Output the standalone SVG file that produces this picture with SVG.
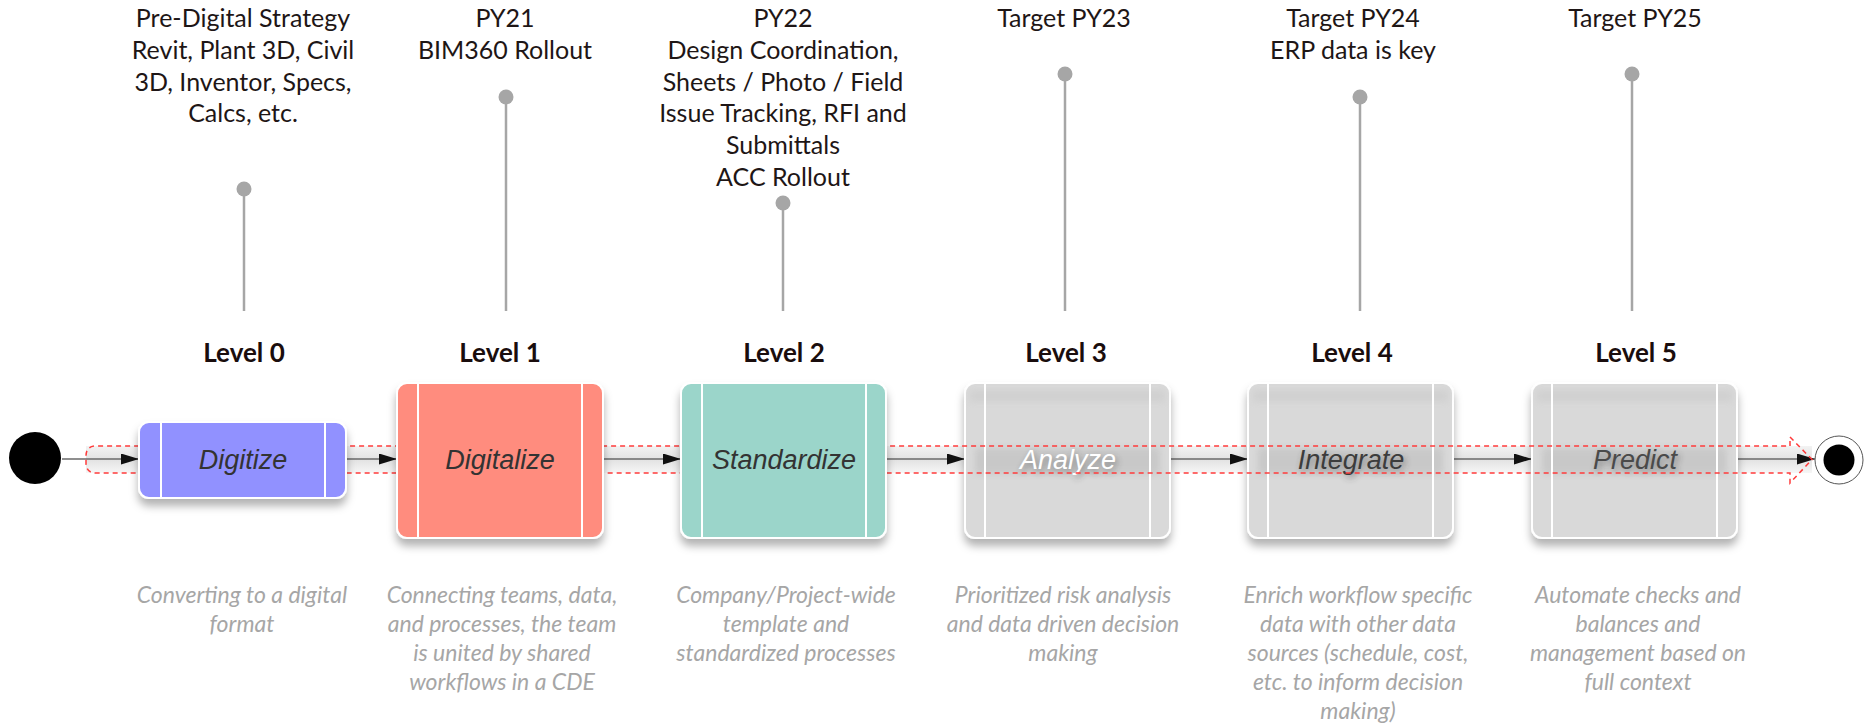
<svg xmlns="http://www.w3.org/2000/svg" width="1864" height="723" viewBox="0 0 1864 723">
<defs>
<style>
.top{font-family:Lato,"Open Sans","Liberation Sans",sans-serif;font-size:25px;fill:#1e1616;text-anchor:middle}
.lvl{font-family:Lato,"Open Sans","Liberation Sans",sans-serif;font-size:26px;font-weight:bold;fill:#1a0d0d;text-anchor:middle}
.desc{font-family:Lato,"Open Sans","Liberation Sans",sans-serif;font-size:23px;font-style:italic;fill:#a6a6a6;text-anchor:middle}
.bl{font-family:"Liberation Sans",Arial,sans-serif;font-size:27px;font-style:italic;text-anchor:middle}
.pin line{stroke:#a6a6a6;stroke-width:2.5}
.pin circle{fill:#a6a6a6}
.box{stroke:#fff;stroke-width:2}
.inner{stroke:#fff;stroke-width:2}
.conn{stroke:#6a6a6a;stroke-width:1.5;fill:none;marker-end:url(#ah)}
.gbox{fill:#d9d9d9;stroke:#fff;stroke-width:2}
</style>
<marker id="ah" viewBox="0 0 18 11" refX="18" refY="5.5" markerWidth="18" markerHeight="11" markerUnits="userSpaceOnUse" orient="auto">
<path d="M0,0 L18,5.5 L0,11 Z" fill="#111"/>
</marker>
<filter id="sh" x="-20%" y="-20%" width="140%" height="150%">
<feGaussianBlur in="SourceAlpha" stdDeviation="4"/>
<feOffset dy="7" result="b"/>
<feFlood flood-color="#000" flood-opacity="0.3"/>
<feComposite in2="b" operator="in" result="s"/>
<feMerge><feMergeNode in="s"/><feMergeNode in="SourceGraphic"/></feMerge>
</filter>
<filter id="soft" x="-20%" y="-50%" width="140%" height="200%">
<feGaussianBlur stdDeviation="3"/>
</filter>
<filter id="soft2" x="-20%" y="-50%" width="140%" height="200%">
<feGaussianBlur stdDeviation="3"/>
</filter>
<linearGradient id="glow" x1="0" y1="0" x2="0" y2="1">
<stop offset="0" stop-color="#f3f3f3"/>
<stop offset="0.5" stop-color="#e2e2e2"/>
<stop offset="1" stop-color="#f6f6f6"/>
</linearGradient>
</defs>
<rect width="1864" height="723" fill="#fff"/>

<g id="annotations">
<g id="pin0" class="pin"><line x1="244" y1="189" x2="244" y2="311"/><circle cx="244" cy="189" r="7.5"/>
<text class="top" x="243" y="27">Pre-Digital Strategy</text><text class="top" x="243" y="59">Revit, Plant 3D, Civil</text><text class="top" x="243" y="91">3D, Inventor, Specs,</text><text class="top" x="243" y="122">Calcs, etc.</text></g>
<g id="pin1" class="pin"><line x1="506" y1="97" x2="506" y2="311"/><circle cx="506" cy="97" r="7.5"/>
<text class="top" x="505" y="27">PY21</text><text class="top" x="505" y="59">BIM360 Rollout</text></g>
<g id="pin2" class="pin"><line x1="783" y1="203" x2="783" y2="311"/><circle cx="783" cy="203" r="7.5"/>
<text class="top" x="783" y="27">PY22</text><text class="top" x="783" y="59">Design Coordination,</text><text class="top" x="783" y="91">Sheets / Photo / Field</text><text class="top" x="783" y="122">Issue Tracking, RFI and</text><text class="top" x="783" y="154">Submittals</text><text class="top" x="783" y="186">ACC Rollout</text></g>
<g id="pin3" class="pin"><line x1="1065" y1="74" x2="1065" y2="311"/><circle cx="1065" cy="74" r="7.5"/>
<text class="top" x="1064" y="27">Target PY23</text></g>
<g id="pin4" class="pin"><line x1="1360" y1="97" x2="1360" y2="311"/><circle cx="1360" cy="97" r="7.5"/>
<text class="top" x="1353" y="27">Target PY24</text><text class="top" x="1353" y="59">ERP data is key</text></g>
<g id="pin5" class="pin"><line x1="1632" y1="74" x2="1632" y2="311"/><circle cx="1632" cy="74" r="7.5"/>
<text class="top" x="1635" y="27">Target PY25</text></g>
</g>

<g id="connectors">
<rect x="86" y="446" width="1726" height="27" fill="url(#glow)"/>
<line class="conn" x1="62" y1="459" x2="139" y2="459"/>
<line class="conn" x1="346" y1="459" x2="397" y2="459"/>
<line class="conn" x1="603" y1="459" x2="681" y2="459"/>
<line class="conn" x1="886" y1="459" x2="965" y2="459"/>
<line class="conn" x1="1170" y1="459" x2="1248" y2="459"/>
<line class="conn" x1="1453" y1="459" x2="1532" y2="459"/>
<line class="conn" x1="1737" y1="459" x2="1815" y2="459"/>
</g>

<g id="level3">
<rect class="gbox" x="965" y="383" width="205" height="155" rx="10" filter="url(#sh)"/>
<rect x="970" y="390" width="195" height="12" fill="#cdcdcd" opacity="0.7" filter="url(#soft2)"/>
<rect x="975" y="448" width="185" height="26" fill="#b5b5b5" opacity="0.45" filter="url(#soft)"/>
<line class="inner" x1="985" y1="384" x2="985" y2="537"/><line class="inner" x1="1150" y1="384" x2="1150" y2="537"/>
<text class="bl" x="1070" y="472" fill="#333" opacity="0.5" filter="url(#soft)">Analyze</text>
<text class="bl" x="1068" y="469" fill="#fff">Analyze</text>
<text class="lvl" x="1066" y="362">Level 3</text>
</g>
<g id="level4">
<rect class="gbox" x="1248" y="383" width="205" height="155" rx="10" filter="url(#sh)"/>
<rect x="1253" y="390" width="195" height="12" fill="#cdcdcd" opacity="0.7" filter="url(#soft2)"/>
<rect x="1258" y="448" width="185" height="26" fill="#b5b5b5" opacity="0.45" filter="url(#soft)"/>
<line class="inner" x1="1268" y1="384" x2="1268" y2="537"/><line class="inner" x1="1433" y1="384" x2="1433" y2="537"/>
<text class="bl" x="1353" y="472" fill="#333" opacity="0.5" filter="url(#soft)">Integrate</text>
<text class="bl" x="1351" y="469" fill="#3c3c3c">Integrate</text>
<text class="lvl" x="1352" y="362">Level 4</text>
</g>
<g id="level5">
<rect class="gbox" x="1532" y="383" width="205" height="155" rx="10" filter="url(#sh)"/>
<rect x="1537" y="390" width="195" height="12" fill="#cdcdcd" opacity="0.7" filter="url(#soft2)"/>
<rect x="1542" y="448" width="185" height="26" fill="#b5b5b5" opacity="0.45" filter="url(#soft)"/>
<line class="inner" x1="1552" y1="384" x2="1552" y2="537"/><line class="inner" x1="1717" y1="384" x2="1717" y2="537"/>
<text class="bl" x="1637" y="472" fill="#333" opacity="0.5" filter="url(#soft)">Predict</text>
<text class="bl" x="1635" y="469" fill="#4a4a4a">Predict</text>
<text class="lvl" x="1636" y="362">Level 5</text>
</g>

<g id="highlight">
<path d="M1790 446 V437 L1812 459.5 L1790 483 V473 H96 Q86 473 86 463 V456 Q86 446 96 446 Z" fill="none" stroke="#ff3b3b" stroke-width="1.5" stroke-dasharray="5 4"/>
</g>

<g id="start"><circle cx="35" cy="458" r="26" fill="#000"/></g>

<g id="level0">
<rect class="box" x="139" y="422" width="207" height="76" rx="10" fill="#9191ff" filter="url(#sh)"/>
<line class="inner" x1="161" y1="423" x2="161" y2="497"/><line class="inner" x1="325" y1="423" x2="325" y2="497"/>
<text class="bl" x="243" y="469" fill="#333">Digitize</text>
<text class="lvl" x="244" y="362">Level 0</text>
</g>
<g id="level1">
<rect class="box" x="397" y="383" width="206" height="155" rx="10" fill="#ff8c7e" filter="url(#sh)"/>
<line class="inner" x1="418" y1="384" x2="418" y2="537"/><line class="inner" x1="582" y1="384" x2="582" y2="537"/>
<text class="bl" x="500" y="469" fill="#333">Digitalize</text>
<text class="lvl" x="500" y="362">Level 1</text>
</g>
<g id="level2">
<rect class="box" x="681" y="383" width="205" height="155" rx="10" fill="#9bd5ca" filter="url(#sh)"/>
<line class="inner" x1="702" y1="384" x2="702" y2="537"/><line class="inner" x1="866" y1="384" x2="866" y2="537"/>
<text class="bl" x="784" y="469" fill="#333">Standardize</text>
<text class="lvl" x="784" y="362">Level 2</text>
</g>

<g id="end"><circle cx="1839" cy="460" r="24" fill="#fff" stroke="#555" stroke-width="1"/><circle cx="1839" cy="460" r="15.5" fill="#000"/></g>

<g id="descriptions">
<text class="desc" x="242" y="603">Converting to a digital</text><text class="desc" x="242" y="632">format</text>
<text class="desc" x="502" y="603">Connecting teams, data,</text><text class="desc" x="502" y="632">and processes, the team</text><text class="desc" x="502" y="661">is united by shared</text><text class="desc" x="502" y="690">workflows in a CDE</text>
<text class="desc" x="786" y="603">Company/Project-wide</text><text class="desc" x="786" y="632">template and</text><text class="desc" x="786" y="661">standardized processes</text>
<text class="desc" x="1063" y="603">Prioritized risk analysis</text><text class="desc" x="1063" y="632">and data driven decision</text><text class="desc" x="1063" y="661">making</text>
<text class="desc" x="1358" y="603">Enrich workflow specific</text><text class="desc" x="1358" y="632">data with other data</text><text class="desc" x="1358" y="661">sources (schedule, cost,</text><text class="desc" x="1358" y="690">etc. to inform decision</text><text class="desc" x="1358" y="719">making)</text>
<text class="desc" x="1638" y="603">Automate checks and</text><text class="desc" x="1638" y="632">balances and</text><text class="desc" x="1638" y="661">management based on</text><text class="desc" x="1638" y="690">full context</text>
</g>
</svg>
